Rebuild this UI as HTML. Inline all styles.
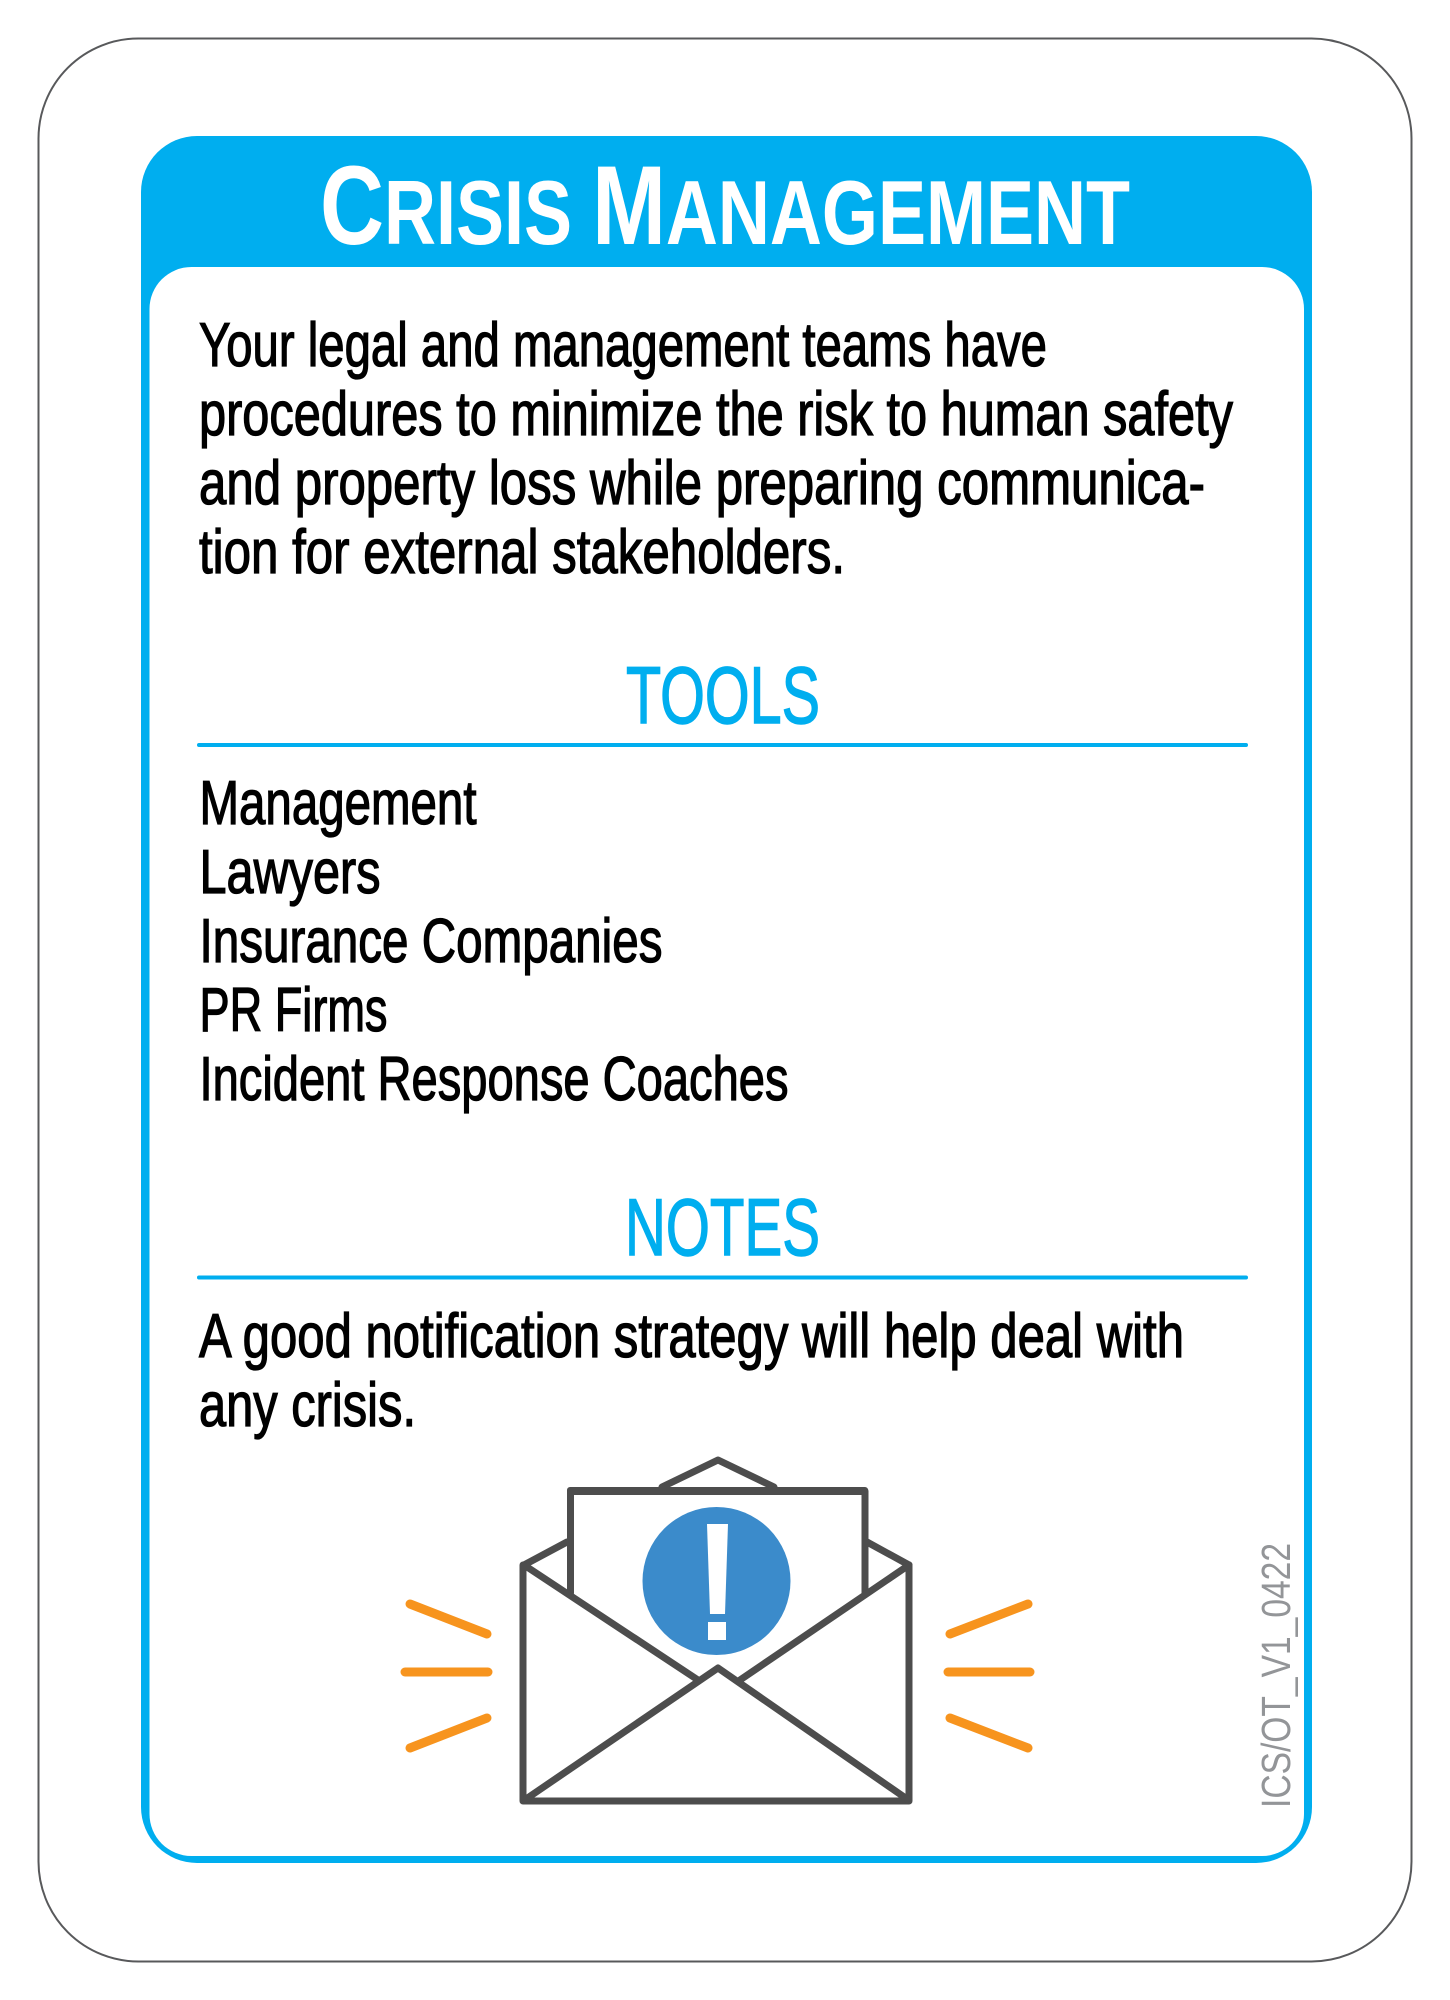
<!DOCTYPE html>
<html lang="en">
<head>
<meta charset="utf-8">
<title>Crisis Management Card</title>
<style>
html,body{margin:0;padding:0;background:#fff;width:1450px;height:2000px;overflow:hidden}
svg{display:block}
text{font-family:"Liberation Sans",Arial,sans-serif}
.body{font-size:62px;fill:#000;stroke:#000;stroke-width:1.3px}
.head{font-size:81px;fill:#00AEEF;stroke:#00AEEF;stroke-width:1.4px}
.env{fill:none;stroke:#4D4D4D;stroke-width:7px;stroke-linejoin:round;stroke-linecap:round}
.ray{fill:none;stroke:#F7941E;stroke-width:9px;stroke-linecap:round}
</style>
</head>
<body>
<svg width="1450" height="2000" viewBox="0 0 1450 2000" xmlns="http://www.w3.org/2000/svg">
  <rect x="0" y="0" width="1450" height="2000" fill="#fff"/>
  <rect x="38.500" y="38.500" width="1373" height="1923" rx="100" ry="100" fill="#fff" stroke="#58595B" stroke-width="2"/>

  <rect x="141" y="136" width="1171" height="1727" rx="56" ry="56" fill="#00AEEF"/>
  <rect x="149.500" y="267" width="1154.500" height="1589" rx="42" ry="42" fill="#fff"/>

  <text x="320" y="244" textLength="810" lengthAdjust="spacingAndGlyphs" font-weight="700" fill="#fff"><tspan font-size="112">C</tspan><tspan font-size="91">RISIS </tspan><tspan font-size="112">M</tspan><tspan font-size="91">ANAGEMENT</tspan></text>

  <g>
    <text class="body" x="199" y="366" textLength="848" lengthAdjust="spacingAndGlyphs">Your legal and management teams have</text>
    <text class="body" x="199" y="435" textLength="1034" lengthAdjust="spacingAndGlyphs">procedures to minimize the risk to human safety</text>
    <text class="body" x="199" y="504" textLength="1006" lengthAdjust="spacingAndGlyphs">and property loss while preparing communica-</text>
    <text class="body" x="199" y="573" textLength="646" lengthAdjust="spacingAndGlyphs">tion for external stakeholders.</text>
  </g>

  <text class="head" x="626" y="723" textLength="194" lengthAdjust="spacingAndGlyphs">TOOLS</text>
  <rect x="197" y="743" width="1051" height="4" rx="2" fill="#00AEEF"/>

  <g>
    <text class="body" x="199.500" y="824" textLength="277" lengthAdjust="spacingAndGlyphs">Management</text>
    <text class="body" x="199.500" y="893" textLength="181" lengthAdjust="spacingAndGlyphs">Lawyers</text>
    <text class="body" x="199.500" y="962" textLength="463" lengthAdjust="spacingAndGlyphs">Insurance Companies</text>
    <text class="body" x="199.500" y="1031" textLength="188" lengthAdjust="spacingAndGlyphs">PR Firms</text>
    <text class="body" x="199.500" y="1100" textLength="589" lengthAdjust="spacingAndGlyphs">Incident Response Coaches</text>
  </g>

  <text class="head" x="625" y="1255" textLength="195" lengthAdjust="spacingAndGlyphs">NOTES</text>
  <rect x="197" y="1275.500" width="1051" height="4" rx="2" fill="#00AEEF"/>

  <g>
    <text class="body" x="199" y="1357" textLength="985" lengthAdjust="spacingAndGlyphs">A good notification strategy will help deal with</text>
    <text class="body" x="199" y="1426" textLength="217" lengthAdjust="spacingAndGlyphs">any crisis.</text>
  </g>

  <g transform="translate(0 -3)">
    <path class="env" d="M662 1490 L718 1463 L774 1490"/>
    <path class="env" d="M567 1545 L524 1568 M867 1545 L909 1568"/>
    <path class="env" d="M570.500 1596 L570.500 1494 L865 1494 L865 1596"/>
    <rect x="567" y="1490" width="301" height="8" rx="3" fill="#4D4D4D"/>
    <circle cx="716.500" cy="1584" r="74" fill="#3B8BCB"/>
    <path d="M707 1527 L728 1527 L725 1617 L710 1617 Z" fill="#fff"/>
    <rect x="708" y="1625" width="18" height="18" fill="#fff"/>
    <path class="env" d="M524 1568 L698 1683 M909 1568 L740 1683"/>
    <path class="env" d="M523 1568 L523 1804 L909 1804 L909 1568"/>
    <path class="env" d="M526 1802 L718 1671 L907 1802"/>
    <line class="ray" x1="410" y1="1607" x2="487" y2="1637"/>
    <line class="ray" x1="405" y1="1675" x2="488" y2="1675"/>
    <line class="ray" x1="410" y1="1751" x2="487" y2="1721"/>
    <line class="ray" x1="1028" y1="1607" x2="950" y2="1637"/>
    <line class="ray" x1="1030" y1="1675" x2="948" y2="1675"/>
    <line class="ray" x1="1028" y1="1751" x2="950" y2="1721"/>
  </g>

  <text transform="translate(1290 1808) rotate(-90)" x="0" y="0" font-size="41" fill="#939598" textLength="265" lengthAdjust="spacingAndGlyphs">ICS/OT_V1_0422</text>
</svg>
</body>
</html>
